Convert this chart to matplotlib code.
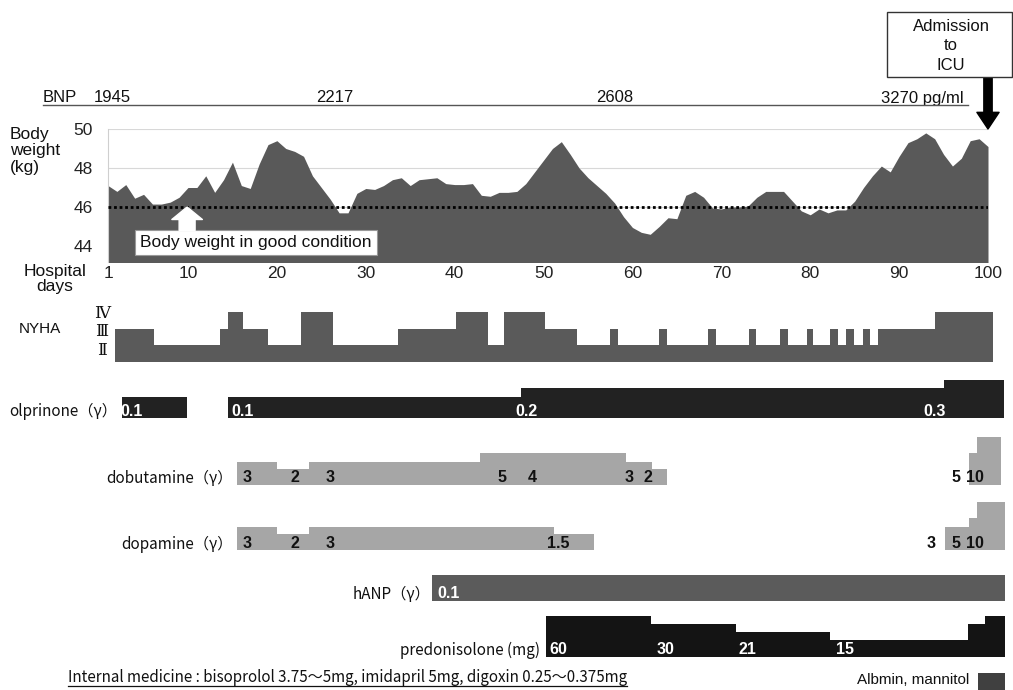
import matplotlib.pyplot as plt
from matplotlib.lines import Line2D
from matplotlib.patches import Rectangle

# ---------------- data ----------------
days = list(range(1, 101))
body_weight = [
    47.1, 46.8, 47.15, 46.45, 46.65, 46.15, 46.15, 46.25, 46.5, 47.0,
    47.0, 47.6, 46.75, 47.4, 48.3, 47.1, 46.95, 48.2, 49.2, 49.4,
    49.0, 48.85, 48.6, 47.6, 47.0, 46.4, 45.7, 45.7, 46.7, 46.95,
    46.9, 47.1, 47.4, 47.5, 47.1, 47.4, 47.45, 47.5, 47.2, 47.15,
    47.15, 47.2, 46.6, 46.55, 46.75, 46.75, 46.8, 47.2, 47.8, 48.4,
    49.0, 49.35, 48.7, 48.0, 47.5, 47.1, 46.7, 46.2, 45.5, 44.95,
    44.7, 44.6, 45.0, 45.45, 45.4, 46.6, 46.8, 46.5, 45.95, 45.9,
    46.0, 46.0, 46.05, 46.5, 46.8, 46.8, 46.8, 46.3, 45.8, 45.6,
    45.9, 45.7, 45.85, 45.85, 46.3, 47.0, 47.6, 48.1, 47.8, 48.6,
    49.3, 49.5, 49.8, 49.5, 48.7, 48.1, 48.5, 49.4, 49.5, 49.1,
]
good_weight = 46
weight_ticks = [44, 46, 48, 50]
day_ticks = [1, 10, 20, 30, 40, 50, 60, 70, 80, 90, 100]

bnp_day = [1.5, 26.5, 58, 90]
bnp_value = [1945, 2217, 2608, 3270]

# NYHA class: 1 = II, 2 = III, 3 = IV
nyha_edges = [1, 5.4, 12.8, 13.7, 15.4, 18.2, 21.9, 25.5, 32.8, 39.3, 42.9,
              44.7, 49.3, 52.9, 56.6, 57.5, 62.1, 63, 67.6, 68.5, 72.2, 73,
              75.7, 76.6, 78.7, 79.4, 81.3, 82.2, 83.1, 84, 85.1, 85.8, 86.7,
              93.1, 99.6]
nyha_class = [2, 1, 2, 3, 2, 1, 3, 1, 2, 3, 1, 3, 2, 1, 2, 1, 2, 1, 2, 1, 2,
              1, 2, 1, 2, 1, 2, 1, 2, 1, 2, 1, 2, 3]
nyha_names = ['Ⅱ', 'Ⅲ', 'Ⅳ']

# drug rows: start/end day, dose text, bar height as drawn
olp_start = [1.8, 13.7, 46.6, 94.1]
olp_end = [9.1, 46.6, 94.1, 100.9]
olp_dose = ['0.1', '0.1', '0.2', '0.3']
olp_level = [21, 21, 30, 38]

dob_start = [14.7, 19.2, 22.8, 42.0, 46.5, 58.4, 61.3, 97.0, 97.85]
dob_end = [19.2, 22.8, 42.0, 46.5, 58.4, 61.3, 63.0, 97.85, 100.55]
dob_dose = ['3', '2', '3', '5', '4', '3', '2', '5', '10']
dob_level = [23, 16, 23, 32, 32, 23, 16, 32, 48]

dop_start = [14.7, 19.2, 22.8, 50.3, 94.3, 97.0, 97.85]
dop_end = [19.2, 22.8, 50.3, 54.8, 97.0, 97.85, 101.0]
dop_dose = ['3', '2', '3', '1.5', '3', '5', '10']
dop_level = [23, 16, 23, 16, 23, 32, 48]

hanp_start = [36.6]
hanp_end = [101.0]
hanp_dose = ['0.1']
hanp_level = [26]

pred_start = [49.4, 61.2, 70.8, 81.3, 96.8, 98.75]
pred_end = [61.2, 70.8, 81.3, 96.8, 98.75, 101.0]
pred_dose = ['60', '30', '21', '15', '', '']
pred_level = [41, 33, 25, 17, 33, 41]

# ---------------- layout ----------------
W, H = 1013, 690
LAT = 'Liberation Sans'
JP = ['Noto Sans CJK JP', 'DejaVu Sans']
NUM = ['Liberation Sans Narrow', 'Liberation Sans']

# where the dose numbers sit (day, centre)
olp_label_day = [2.9, 15.3, 47.2, 93.1]
dob_label_day = [15.8, 21.2, 25.2, 44.5, 47.9, 58.8, 60.9, 95.5, 97.6]
dop_label_day = [15.8, 21.2, 25.2, 50.8, 92.7, 95.5, 97.6]
hanp_label_day = [38.5]
pred_label_day = [50.8, 62.8, 72.1, 83.0]


def px_box(l, t, r, b):
    return [l / W, 1 - b / H, (r - l) / W, (b - t) / H]


def fx(x):
    return x / W


def fy(y):
    return 1 - y / H


fig = plt.figure(figsize=(W / 100, H / 100), dpi=100)
fig.patch.set_facecolor('white')

# ---- body weight panel ----
ax = fig.add_axes(px_box(108, 129, 988, 262))
ax.set_xlim(1, 100)
ax.set_ylim(43.18, 50)
for w in weight_ticks:
    ax.axhline(w, color='#d8d8d8', lw=0.8, zorder=1)
ax.fill_between(days, body_weight, 40, color='#595959', lw=0, zorder=2)
ax.axhline(good_weight, color='black', lw=2, ls=(0, (1, 1)), zorder=3)
for s in ['top', 'right', 'bottom']:
    ax.spines[s].set_visible(False)
ax.spines['left'].set_color('#cfcfcf')
ax.set_yticks(weight_ticks)
ax.set_xticks(day_ticks)
ax.tick_params(length=0, labelsize=12.5, labelcolor='#222')
ax.tick_params(axis='y', pad=11)
ax.tick_params(axis='x', pad=3)
for lab in ax.get_xticklabels() + ax.get_yticklabels():
    lab.set_family(LAT)

ax.text(17.6, 44.19, 'Body weight in good condition', ha='center', va='center',
        fontsize=12.5, family=LAT, color='#111', zorder=5,
        bbox=dict(boxstyle='square,pad=0.3', fc='white', ec='#999', lw=0.8))
ax.annotate('', xy=(9.9, good_weight), xytext=(9.9, 44.8), zorder=5,
            arrowprops=dict(arrowstyle='simple,head_width=2.2,head_length=0.9,tail_width=1.15',
                            fc='white', ec='white', mutation_scale=10,
                            shrinkA=0, shrinkB=0))
ax.annotate('', xy=(100, 50), xytext=(100, 52.7), annotation_clip=False,
            arrowprops=dict(arrowstyle='simple,head_width=1.6,head_length=1.2,tail_width=0.6',
                            fc='black', ec='black', mutation_scale=10,
                            shrinkA=0, shrinkB=0))

# BNP row: baseline 26.5 px above the weight panel
bnp_up = 26.5 * 72 / 100
fig.text(fx(43), fy(102.5), 'BNP', ha='left', va='baseline', fontsize=12, family=LAT, color='#111')
for i, (d, v) in enumerate(zip(bnp_day, bnp_value)):
    last = i == len(bnp_value) - 1
    ax.annotate(f'{v} pg/ml' if last else str(v), xy=(d, 1), xycoords=('data', 'axes fraction'),
                xytext=(-13 if last else 0, bnp_up), textcoords='offset points',
                ha='left' if last else 'center', va='baseline', fontsize=12,
                family=LAT, color='#111', annotation_clip=False)
fig.add_artist(Line2D([fx(43), fx(968)], [fy(105), fy(105)], color='#555', lw=1))

fig.text(fx(10), fy(151), 'Body\nweight\n(kg)', ha='left', va='center', fontsize=12.5,
         family=LAT, linespacing=1.15, color='#111')
fig.text(fx(55), fy(279), 'Hospital\ndays', ha='center', va='center', fontsize=12.5,
         family=LAT, linespacing=0.95, color='#111')

# ICU box
fig.add_artist(Rectangle((fx(887), fy(77)), (1012 - 887) / W, (77 - 12) / H,
                         transform=fig.transFigure, fc='white', ec='#333', lw=1))
fig.text(fx(951), fy(46), 'Admission\nto\nICU', ha='center', va='center', fontsize=12,
         family=LAT, linespacing=1.35, color='#111')

# ---- NYHA ----
X0, X1 = 115, 1005
axn = fig.add_axes(px_box(X0, 312, X1, 362))
axn.set_xlim(1, 101)
axn.set_ylim(0, 3)
axn.axis('off')
axn.stairs(nyha_class, nyha_edges, fill=True, color='#5a5a5a', baseline=0)
fig.text(fx(19), fy(329), 'NYHA', ha='left', va='center', fontsize=11, family=LAT, color='#111')
for name, yy in zip(nyha_names, [351, 332, 313]):
    fig.text(fx(102), fy(yy), name, ha='center', va='center', fontsize=12,
             family=['DejaVu Serif', 'Noto Sans CJK JP'], color='#111')


def drug_row(base, starts, ends, levels, doses, label_days, color, text_color):
    a = fig.add_axes(px_box(X0, base - 50, X1, base))
    a.set_xlim(1, 101)
    a.set_ylim(0, 50)
    a.axis('off')
    widths = [e - s for s, e in zip(starts, ends)]
    a.bar(starts, levels, width=widths, align='edge', color=color, lw=0)
    for d, t in zip(label_days, doses):
        if t:
            a.text(d, 7, t, ha='center', va='center', fontsize=11.5, weight='bold',
                   family=NUM, color=text_color)
    return a


drug_row(418, olp_start, olp_end, olp_level, olp_dose, olp_label_day, '#222222', 'white')
drug_row(485, dob_start, dob_end, dob_level, dob_dose, dob_label_day, '#a6a6a6', '#111')
drug_row(550, dop_start, dop_end, dop_level, dop_dose, dop_label_day, '#a6a6a6', '#111')
drug_row(601, hanp_start, hanp_end, hanp_level, hanp_dose, hanp_label_day, '#5b5b5b', 'white')
drug_row(657, pred_start, pred_end, pred_level, pred_dose, pred_label_day, '#141414', 'white')

fs_jp = 11
fig.text(fx(117), fy(411), 'olprinone（γ）', ha='right', va='center', fontsize=fs_jp, family=JP, color='#111')
fig.text(fx(233), fy(478), 'dobutamine（γ）', ha='right', va='center', fontsize=fs_jp, family=JP, color='#111')
fig.text(fx(233), fy(544), 'dopamine（γ）', ha='right', va='center', fontsize=fs_jp, family=JP, color='#111')
fig.text(fx(430), fy(594), 'hANP（γ）', ha='right', va='center', fontsize=fs_jp, family=JP, color='#111')
fig.text(fx(540), fy(650), 'predonisolone (mg)', ha='right', va='center', fontsize=fs_jp, family=JP, color='#111')

note = fig.text(fx(68), fy(677), 'Internal medicine : bisoprolol 3.75～5mg, imidapril 5mg, digoxin 0.25～0.375mg',
                ha='left', va='center', fontsize=10.9, family=JP, color='#111')
fig.text(fx(969), fy(680), 'Albmin, mannitol', ha='right', va='center', fontsize=11, family=LAT, color='#111')
fig.add_artist(Rectangle((fx(978), fy(690)), 27 / W, 17 / H, transform=fig.transFigure,
                         fc='#404040', ec='none'))

fig.canvas.draw()
bb = note.get_window_extent(fig.canvas.get_renderer())
fig.add_artist(Line2D([bb.x0 / W, bb.x1 / W], [fy(686), fy(686)], color='#111', lw=0.9))

fig.savefig('out.png', dpi=100, facecolor='white')
